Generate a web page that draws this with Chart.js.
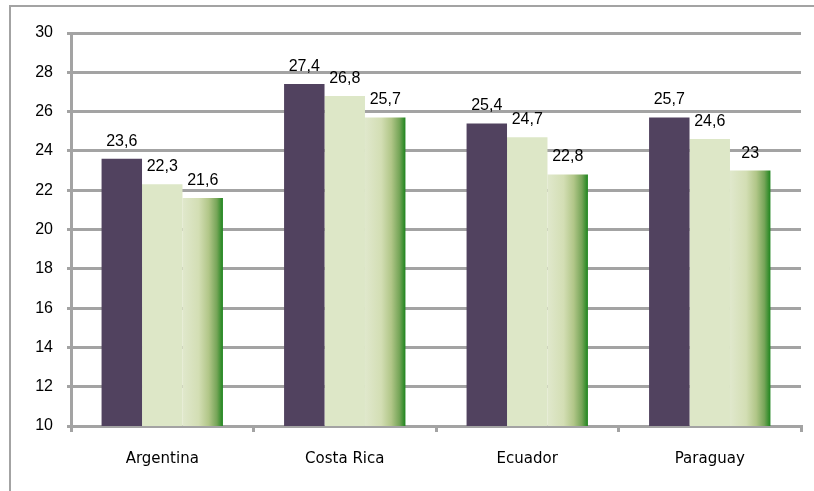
<!DOCTYPE html>
<html lang="es">
<head>
    <meta charset="UTF-8">
    <title>Comparación por país</title>
    <script src="https://cdn.jsdelivr.net/npm/chart.js"></script>
    <style>
        html, body { margin: 0; padding: 0; background: #fff; }
        #wrap { width: 814px; height: 491px; }
    </style>
</head>
<body>
<div id="wrap"><canvas id="chartCanvas" width="814" height="491"></canvas></div>

<script>
const paises = ['Argentina', 'Costa Rica', 'Ecuador', 'Paraguay'];
const serie1 = [23.6, 27.4, 25.4, 25.7];
const serie2 = [22.3, 26.8, 24.7, 24.6];
const serie3 = [21.6, 25.7, 22.8, 23];
const yTicks = [10, 12, 14, 16, 18, 20, 22, 24, 26, 28, 30];

const GRIS = '#a3a3a3';
const CAT_PCT = 0.665;
const FUENTE = '"Liberation Sans", Arial, sans-serif';

// degradado horizontal para las barras de la tercera serie
function verdeDegradado(ctx) {
    const chart = ctx.chart;
    const xs = chart.scales.x;
    if (ctx.type !== 'data' || !xs || !chart.chartArea) return '#7fa95e';
    const paso = xs.width / paises.length;
    const w = paso * CAT_PCT / 3;
    const cx = xs.getPixelForValue(ctx.dataIndex) + w;
    const g = chart.ctx.createLinearGradient(cx - w / 2, 0, cx + w / 2, 0);
    g.addColorStop(0, '#e0e8cc');
    g.addColorStop(0.4, '#d3deb4');
    g.addColorStop(0.65, '#b1c688');
    g.addColorStop(0.85, '#76a558');
    g.addColorStop(1, '#1e851e');
    return g;
}

// marco exterior (solo arriba e izquierda)
const marco = {
    id: 'marco',
    beforeDraw(chart) {
        const c = chart.ctx;
        c.save();
        c.strokeStyle = GRIS;
        c.lineWidth = 2;
        c.beginPath();
        c.moveTo(814, 6);
        c.lineTo(10, 6);
        c.lineTo(10, 491);
        c.stroke();
        c.restore();
    }
};

// valores sobre cada barra, con coma decimal
const etiquetas = {
    id: 'etiquetas',
    afterDatasetsDraw(chart) {
        const c = chart.ctx;
        c.save();
        c.font = '16px ' + FUENTE;
        c.fillStyle = '#000';
        c.textAlign = 'center';
        c.textBaseline = 'alphabetic';
        chart.data.datasets.forEach((ds, i) => {
            chart.getDatasetMeta(i).data.forEach((bar, j) => {
                const txt = String(ds.data[j]).replace('.', ',');
                c.fillText(txt, bar.x, bar.y - 13);
            });
        });
        c.restore();
    }
};

new Chart(document.getElementById('chartCanvas'), {
    type: 'bar',
    data: {
        labels: paises,
        datasets: [
            { label: 'Serie 1', data: serie1, backgroundColor: '#51425f' },
            { label: 'Serie 2', data: serie2, backgroundColor: '#dde7c7' },
            { label: 'Serie 3', data: serie3, backgroundColor: verdeDegradado }
        ]
    },
    options: {
        responsive: false,
        animation: false,
        devicePixelRatio: 1,
        categoryPercentage: CAT_PCT,
        barPercentage: 1,
        layout: { padding: { top: 33, right: 13, left: 0, bottom: 0 } },
        plugins: {
            legend: { display: false },
            tooltip: { enabled: false }
        },
        scales: {
            x: {
                afterFit: s => { s.height = 65; },
                grid: {
                    offset: true,
                    drawOnChartArea: false,
                    drawTicks: true,
                    tickLength: 6,
                    color: GRIS,
                    lineWidth: 3
                },
                border: { display: true, color: GRIS, width: 3 },
                ticks: {
                    color: '#000',
                    padding: 18,
                    font: { family: '"DejaVu Sans", sans-serif', size: 15 }
                }
            },
            y: {
                min: 10,
                max: 30,
                afterFit: s => { s.width = 71; },
                afterBuildTicks: s => { s.ticks = yTicks.map(v => ({ value: v })); },
                grid: {
                    color: GRIS,
                    lineWidth: 3,
                    drawTicks: true,
                    tickLength: 4
                },
                border: { display: true, color: GRIS, width: 3 },
                ticks: {
                    color: '#000',
                    padding: 14,
                    font: { family: FUENTE, size: 16 }
                }
            }
        }
    },
    plugins: [marco, etiquetas]
});
</script>
</body>
</html>
